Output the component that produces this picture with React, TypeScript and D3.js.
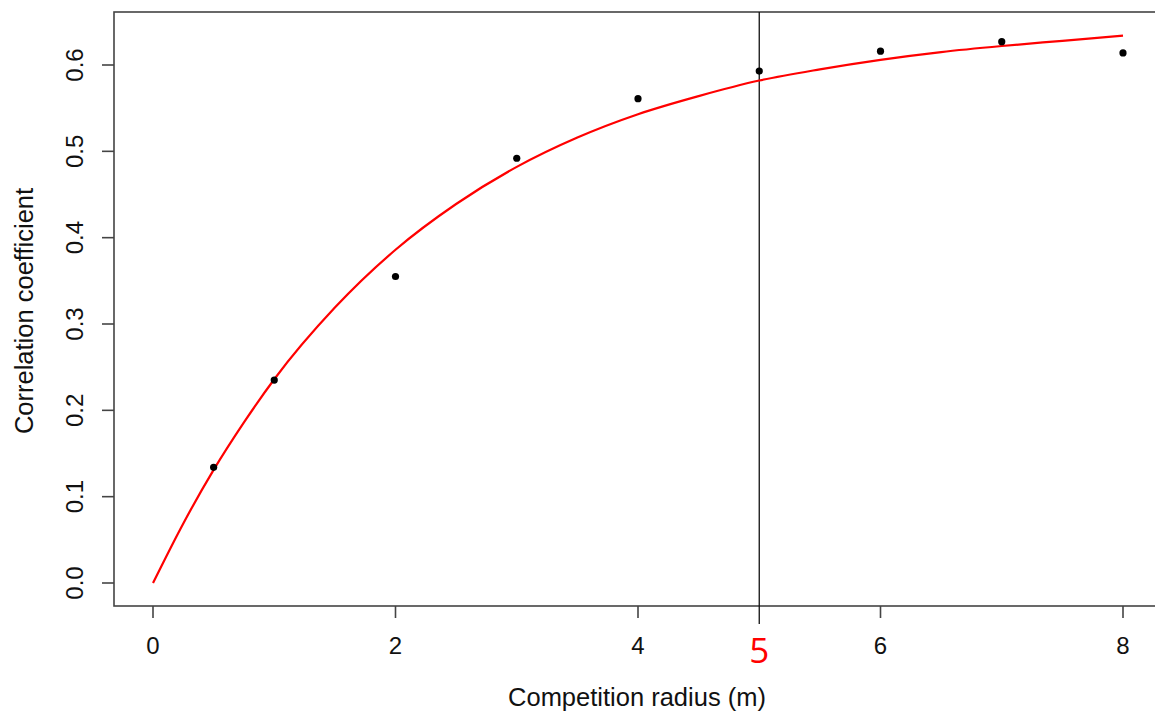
import React, { useEffect, useRef } from "react";
import * as d3 from "d3";

// observed correlation at each competition radius
const radius = [0.5, 1, 2, 3, 4, 5, 6, 7, 8];
const corr = [0.134, 0.235, 0.355, 0.492, 0.561, 0.593, 0.616, 0.627, 0.614];

// fitted curve
const fitX = [0, 0.25, 0.5, 0.75, 1, 1.5, 2, 2.5, 3, 3.5, 4, 4.5, 5, 5.5, 6, 6.5, 7, 7.5, 8];
const fitY = [0, 0.069, 0.131, 0.186, 0.236, 0.319, 0.386, 0.439, 0.482, 0.516, 0.543, 0.564, 0.582, 0.595, 0.606, 0.615, 0.622, 0.628, 0.634];

const xTicks = [0, 2, 4, 6, 8];
const yTicks = [0, 0.1, 0.2, 0.3, 0.4, 0.5, 0.6];
const markX = 5;

const W = 1155, H = 713;

export default function App() {
  const ref = useRef<SVGSVGElement>(null);

  useEffect(() => {
    const svg = d3.select(ref.current);
    svg.selectAll("*").remove();
    const font = "'Liberation Sans', Arial, sans-serif";

    const x = d3.scaleLinear().domain([0, 8]).range([153, 1123]);
    const y = d3.scaleLinear().domain([0, 0.6]).range([583, 65]);
    const box = { left: 114, top: 12, bottom: 606, right: 1170 };
    const axisCol = "#444";

    // plot frame
    svg.append("rect")
      .attr("x", box.left).attr("y", box.top)
      .attr("width", box.right - box.left).attr("height", box.bottom - box.top)
      .attr("fill", "none").attr("stroke", axisCol).attr("stroke-width", 1.6);

    // x axis ticks
    const gx = svg.append("g");
    gx.selectAll("line").data(xTicks).join("line")
      .attr("x1", d => x(d)).attr("x2", d => x(d))
      .attr("y1", box.bottom).attr("y2", box.bottom + 12)
      .attr("stroke", axisCol).attr("stroke-width", 1.6);
    gx.selectAll("text").data(xTicks).join("text")
      .attr("x", d => x(d)).attr("y", 654)
      .attr("text-anchor", "middle")
      .attr("font-family", font).attr("font-size", 24).attr("fill", "#111")
      .text(d => d3.format("d")(d));

    // y axis ticks
    const gy = svg.append("g");
    gy.selectAll("line").data(yTicks).join("line")
      .attr("x1", box.left - 12).attr("x2", box.left)
      .attr("y1", d => y(d)).attr("y2", d => y(d))
      .attr("stroke", axisCol).attr("stroke-width", 1.6);
    gy.selectAll("text").data(yTicks).join("text")
      .attr("transform", d => `translate(83,${y(d)}) rotate(-90)`)
      .attr("text-anchor", "middle")
      .attr("font-family", font).attr("font-size", 24).attr("fill", "#111")
      .text(d => d3.format(".1f")(d));

    // axis titles
    svg.append("text")
      .attr("x", 637).attr("y", 706).attr("text-anchor", "middle")
      .attr("font-family", font).attr("font-size", 25.5).attr("fill", "#111")
      .text("Competition radius (m)");
    svg.append("text")
      .attr("transform", "translate(33,311) rotate(-90)")
      .attr("text-anchor", "middle")
      .attr("font-family", font).attr("font-size", 25.5).attr("fill", "#111")
      .text("Correlation coefficient");

    // vertical marker at radius 5
    svg.append("line")
      .attr("x1", x(markX)).attr("x2", x(markX))
      .attr("y1", box.top).attr("y2", box.bottom + 18)
      .attr("stroke", "#111").attr("stroke-width", 1.3);
    svg.append("text")
      .attr("x", x(markX)).attr("y", 663).attr("text-anchor", "middle")
      .attr("font-family", "'Open Sans', 'DejaVu Sans', sans-serif")
      .attr("font-size", 35).attr("fill", "#ff0000")
      .text(String(markX));

    // fitted curve
    const line = d3.line<number>()
      .x((_, i) => x(fitX[i]))
      .y(d => y(d))
      .curve(d3.curveMonotoneX);
    svg.append("path")
      .attr("d", line(fitY))
      .attr("fill", "none").attr("stroke", "#ff0000").attr("stroke-width", 2.2);

    // observed points
    svg.append("g").selectAll("circle").data(corr).join("circle")
      .attr("cx", (_, i) => x(radius[i])).attr("cy", d => y(d))
      .attr("r", 3.6).attr("fill", "#000");
  }, []);

  return (
    <svg
      ref={ref}
      width={W}
      height={H}
      style={{ position: "absolute", left: 0, top: 0, background: "#fff" }}
    />
  );
}
